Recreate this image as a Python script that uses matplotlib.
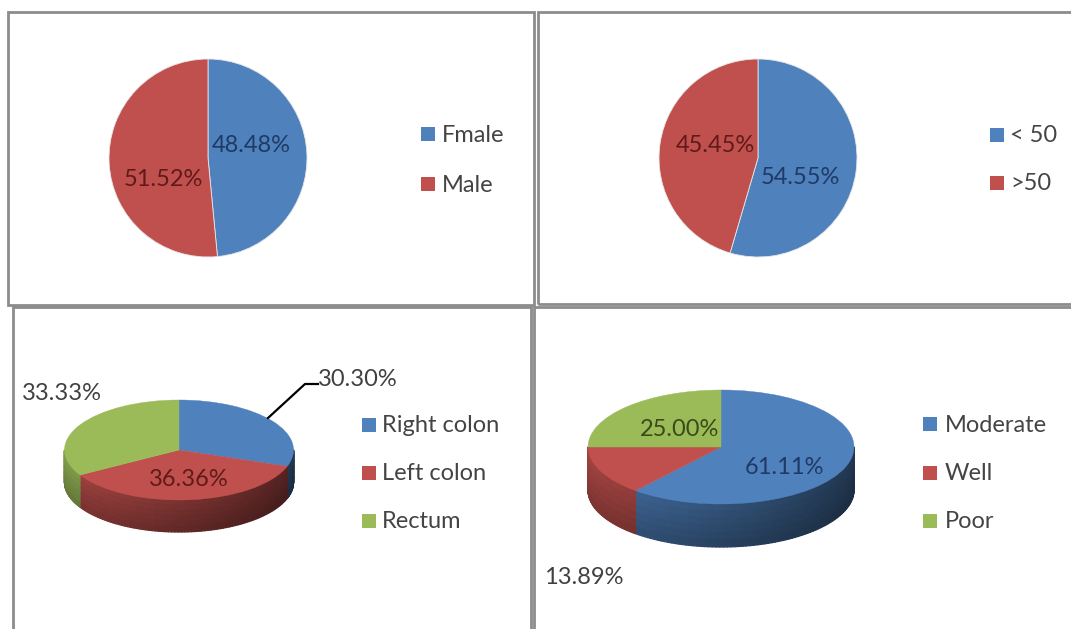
import numpy as np
import matplotlib
matplotlib.use('Agg')
import matplotlib.pyplot as plt
from matplotlib.patches import Rectangle, Wedge
from matplotlib.collections import PolyCollection
from matplotlib.transforms import Affine2D
from matplotlib.colors import to_rgb

W, H = 1071, 629

sex_labels = ['Fmale', 'Male']
sex_pct = [48.48, 51.52]

age_labels = ['< 50', '>50']
age_pct = [54.55, 45.45]

site_labels = ['Right colon', 'Left colon', 'Rectum']
site_pct = [30.30, 36.36, 33.33]

grade_labels = ['Moderate', 'Well', 'Poor']
grade_pct = [61.11, 13.89, 25.00]

BLUE, RED, GREEN = '#4F81BD', '#C0504D', '#9BBB59'
DARK = {BLUE: '#1F3A66', RED: '#5E1B19', GREEN: '#3A4A18'}
OUTSIDE = '#404040'
LEGEND_TXT = '#444444'

plt.rcParams['font.family'] = ['Lato', 'DejaVu Sans']
FS = 17

fig = plt.figure(figsize=(W / 100, H / 100), dpi=100)
ax = fig.add_axes([0, 0, 1, 1])


def Y(y):
    # work in screen pixels, y growing downwards
    return H - y


def fmt(v):
    return '%.2f%%' % v


def box(x0, y0, x1, y1):
    ax.add_patch(Rectangle((x0, Y(y1)), x1 - x0, y1 - y0, fill=False,
                           edgecolor='#8c8c8c', linewidth=2.0, zorder=5))


def legend(x, y0, names, colors, step, dx=20):
    for i, (n, c) in enumerate(zip(names, colors)):
        yc = y0 + i * step
        ax.add_patch(Rectangle((x, Y(yc) - 7), 14, 14, color=c, lw=0))
        ax.text(x + dx, Y(yc) - 1, n, fontsize=FS, color=LEGEND_TXT,
                ha='left', va='center')


def pie3d(values, colors, cx, cy, sx, sy, depth):
    fr = np.asarray(values, float) / np.sum(values)
    edges = 90 - 360 * np.concatenate([[0], np.cumsum(fr)])
    to_data = Affine2D().scale(sx, sy).translate(cx, Y(cy)) + ax.transData
    # side wall, only the front half (-180..0 deg) is visible
    polys, fcols = [], []
    nv = 6
    for i, c in enumerate(colors):
        lo, hi = max(edges[i + 1], -180), min(edges[i], 0)
        if hi <= lo:
            continue
        t = np.radians(np.linspace(lo, hi, 80))
        base = np.array(to_rgb(c))
        for t0, t1 in zip(t[:-1], t[1:]):
            x0, x1 = cx + sx * np.cos(t0), cx + sx * np.cos(t1)
            y0, y1 = Y(cy) + sy * np.sin(t0), Y(cy) + sy * np.sin(t1)
            k = 0.64 - 0.2 * np.cos(0.5 * (t0 + t1))
            for j in range(nv):
                d0, d1 = depth * j / nv, depth * (j + 1) / nv
                polys.append([(x0, y0 - d0), (x1, y1 - d0),
                              (x1, y1 - d1), (x0, y0 - d1)])
                kv = k * (1 - 0.22 * (j + 0.5) / nv)
                fcols.append(np.clip(base * kv, 0, 1))
    ax.add_collection(PolyCollection(polys, facecolors=fcols,
                                     edgecolors=fcols, linewidths=0.9))
    for i, c in enumerate(colors):
        ax.add_patch(Wedge((0, 0), 1, edges[i + 1], edges[i], facecolor=c,
                           edgecolor=c, linewidth=0.3, transform=to_data))


# panel frames
box(8, 12, 534, 305)
box(538, 12, 1080, 304)
box(13, 307, 531, 640)
box(534, 307, 1080, 640)

# sex
ax.pie(sex_pct, colors=[BLUE, RED], startangle=90, counterclock=False,
       center=(208, Y(158)), radius=99, frame=True,
       wedgeprops=dict(edgecolor='#e6e6e6', linewidth=0.6))
ax.text(251, Y(146), fmt(sex_pct[0]), fontsize=FS, color=DARK[BLUE], ha='center', va='center')
ax.text(163, Y(179), fmt(sex_pct[1]), fontsize=FS, color=DARK[RED], ha='center', va='center')
legend(421, 134, sex_labels, [BLUE, RED], 50, dx=21)

# age
ax.pie(age_pct, colors=[BLUE, RED], startangle=90, counterclock=False,
       center=(758, Y(158)), radius=99, frame=True,
       wedgeprops=dict(edgecolor='#e6e6e6', linewidth=0.6))
ax.text(715, Y(146), fmt(age_pct[1]), fontsize=FS, color=DARK[RED], ha='center', va='center')
ax.text(800, Y(178), fmt(age_pct[0]), fontsize=FS, color=DARK[BLUE], ha='center', va='center')
legend(990, 135, age_labels, [BLUE, RED], 48)

# tumour site
pie3d(site_pct, [BLUE, RED, GREEN], 179, 450, 114.5, 50, 32)
ax.text(62, Y(394), fmt(site_pct[2]), fontsize=FS, color=OUTSIDE, ha='center', va='center')
ax.text(358, Y(379), fmt(site_pct[0]), fontsize=FS, color=OUTSIDE, ha='center', va='center')
ax.plot([268, 305, 318], [Y(418), Y(384), Y(384)], color='black', lw=1.6)
ax.text(189, Y(480), fmt(site_pct[1]), fontsize=FS, color=DARK[RED], ha='center', va='center')
legend(362, 425, site_labels, [BLUE, RED, GREEN], 48)

# grade
pie3d(grade_pct, [BLUE, RED, GREEN], 721, 447, 133, 57, 43)
ax.text(680, Y(429), fmt(grade_pct[2]), fontsize=FS, color=DARK[GREEN], ha='center', va='center')
ax.text(785, Y(467), fmt(grade_pct[0]), fontsize=FS, color=DARK[BLUE], ha='center', va='center')
ax.text(584, Y(578), fmt(grade_pct[1]), fontsize=FS, color=OUTSIDE, ha='center', va='center')
legend(923, 424, grade_labels, [BLUE, RED, GREEN], 48.5, dx=22)

ax.set_xlim(0, W)
ax.set_ylim(0, H)
ax.set_aspect('auto')
ax.axis('off')

fig.savefig('out.png', dpi=100, facecolor='white')
